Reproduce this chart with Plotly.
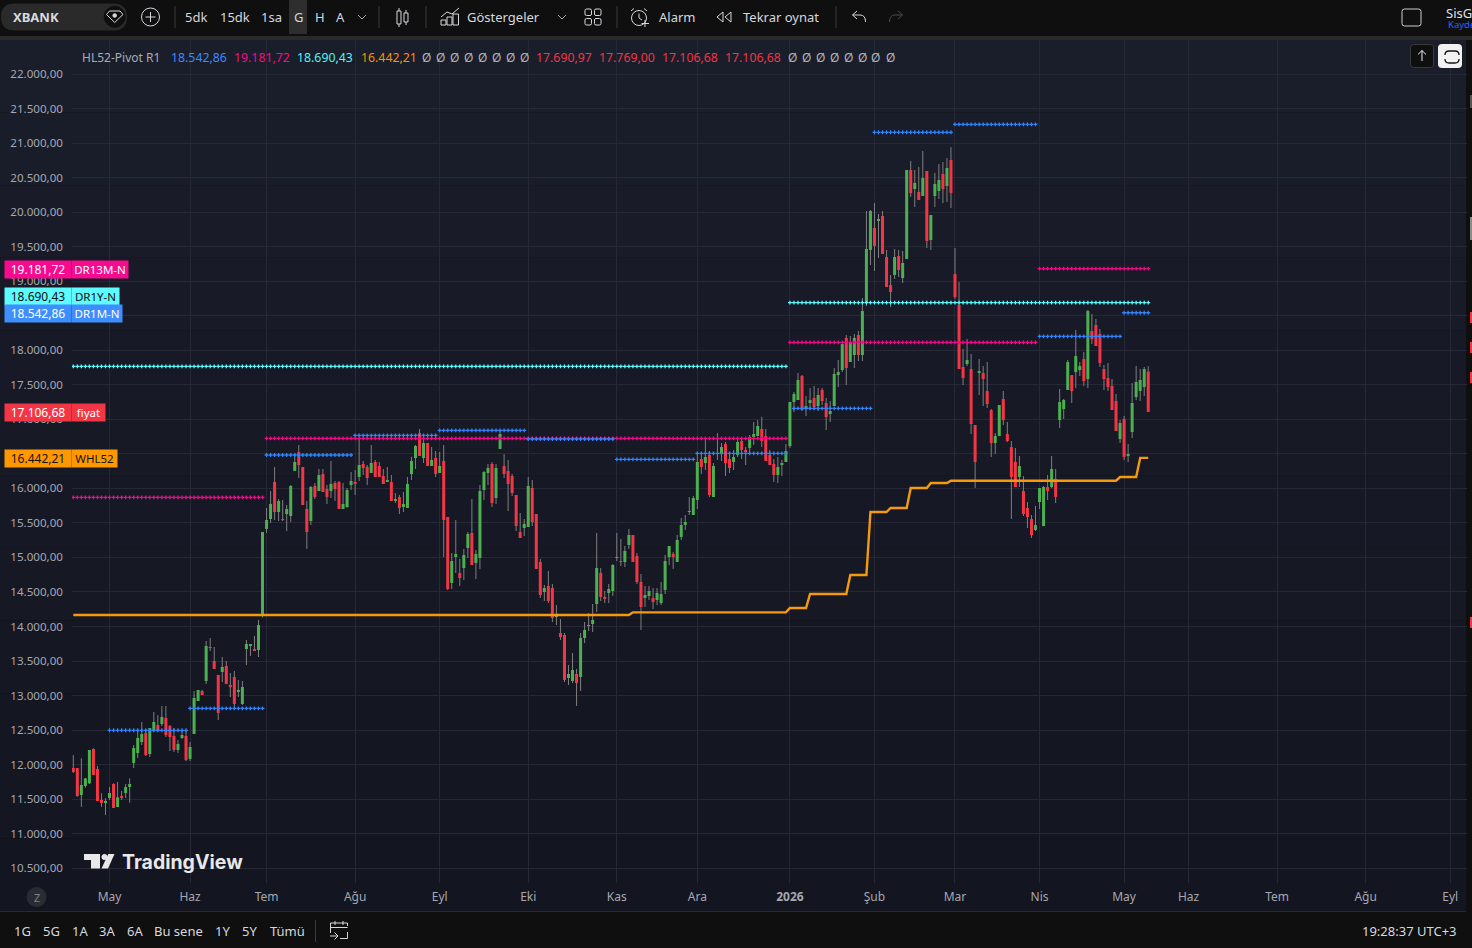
import plotly.graph_objects as go

# candles, one row per ten bars
opens = [
    11951, 11951, 11560, 11690, 11729, 12226, 11936, 11488, 11444, 11516,
    11719, 11386, 11545, 11589, 11676, 12023, 12168, 12327, 12458, 12154,
    12487, 12574, 12588, 12675, 12559, 12415, 12212, 12386, 12415, 12082,
    12444, 12921, 13066, 13211, 13703, 13501, 13298, 13341, 13428, 13139,
    13269, 13052, 12878, 13674, 13718, 13660, 13660, 14166, 15412, 15556,
    16092, 15658, 15556, 15629, 15600, 16251, 16527, 16309, 15701, 15527,
    16034, 15962, 16208, 15991, 15962, 16078, 16092, 15701, 15730, 16049,
    16078, 16165, 16353, 16309, 16222, 16382, 16324, 16179, 16092, 16092,
    15817, 15875, 15730, 15716, 16208, 16440, 16802, 16440, 16657, 16324,
    16440, 16222, 16396, 15585, 14630, 15006, 14774, 14847, 15136, 15354,
    14919, 14992, 15976, 16222, 16353, 15860, 16570, 16324, 16251, 16179,
    15904, 15368, 15426, 15441, 16005, 15629, 14934, 14499, 14586, 14557,
    14137, 13905, 13877, 13254, 13210, 13312, 13268, 13833, 14007, 14036,
    14326, 14774, 14427, 14485, 14514, 14992, 14948, 14934, 15180, 15325,
    15021, 14644, 14412, 14441, 14412, 14383, 14340, 14528, 15006, 15050,
    14934, 15296, 15470, 15658, 15614, 15832, 16425, 16367, 16483, 15875,
    16498, 16498, 16642, 16425, 16382, 16483, 16686, 16541, 16585, 16744,
    16758, 16860, 16758, 16483, 16353, 16194, 16343, 16382, 16613, 17250,
    17279, 17627, 17149, 17236, 17308, 17193, 17424, 17236, 17077, 17193,
    17642, 17714, 18177, 17830, 17931, 18221, 17931, 18699, 19452, 19770,
    19876, 19944, 19350, 18945, 19090, 19365, 19046, 19321, 20610, 20335,
    20292, 20234, 20596, 19596, 20234, 20306, 20552, 20378, 20755, 19104,
    18655, 17757, 17800, 17728, 16917, 17670, 17670, 17409, 17134, 16656,
    16758, 17294, 16787, 16598, 16381, 16164, 15961, 15715, 15556, 15397,
    15802, 15454, 16019, 16019, 16135, 16989, 17149, 17424, 17641, 17684,
    17713, 17873, 17583, 18278, 18365, 18235, 17728, 17598, 17482, 17264,
    16714, 17004, 16468, 16816, 17322, 17409, 17467, 17690.97,
]
highs = [
    12139, 11951, 12091, 11801, 12212, 12236, 11980, 11584, 11512, 11676,
    11729, 11748, 11618, 11719, 11801, 12284, 12501, 12617, 12516, 12530,
    12762, 12719, 12849, 12849, 12574, 12530, 12357, 12501, 12501, 12328,
    13066, 13081, 13081, 13790, 13834, 13703, 13298, 13559, 13501, 13327,
    13356, 13226, 13211, 13805, 13747, 13863, 14095, 15368, 15716, 15962,
    16309, 15846, 15832, 15759, 16049, 16507, 16628, 16309, 15817, 16034,
    16078, 16280, 16280, 16049, 16396, 16107, 16107, 16078, 16005, 16237,
    16266, 16725, 16396, 16338, 16628, 16411, 16382, 16280, 16309, 16194,
    15933, 15904, 15947, 16165, 16459, 16628, 16860, 16715, 16657, 16599,
    16541, 16527, 16628, 15585, 15064, 15542, 14977, 15122, 15368, 15846,
    15107, 16049, 16251, 16353, 16382, 16353, 16845, 16498, 16411, 16208,
    15904, 15643, 15556, 16165, 16121, 15629, 14977, 14601, 14803, 14615,
    14311, 14108, 13905, 13442, 13616, 13384, 13905, 14065, 14195, 14326,
    15354, 14847, 14514, 14615, 14905, 15354, 15267, 15165, 15412, 15325,
    15064, 14760, 14586, 14586, 14557, 14557, 14644, 15035, 15165, 15079,
    15325, 15571, 15614, 15875, 15889, 16527, 16512, 16729, 16541, 16367,
    16802, 16657, 16671, 16498, 16556, 16700, 16715, 16599, 16773, 16961,
    16990, 17038, 16860, 16556, 16425, 16454, 16411, 16642, 17250, 17395,
    17670, 17642, 17337, 17453, 17482, 17453, 17453, 17308, 17265, 17743,
    17859, 18090, 18221, 18206, 18235, 18279, 18757, 20016, 20031, 20132,
    19973, 20016, 19452, 19090, 19466, 19452, 19437, 20610, 20740, 20610,
    20654, 20885, 20596, 19958, 20567, 20697, 20726, 20784, 20943, 19480,
    18988, 18018, 18162, 17945, 16917, 17873, 17771, 17829, 17149, 16801,
    17207, 17409, 16960, 16685, 16584, 16468, 16178, 15802, 15614, 15744,
    16005, 16034, 16193, 16468, 16280, 17438, 17294, 17858, 17641, 18293,
    17829, 17974, 18582, 18524, 18452, 18307, 17786, 17815, 17583, 17366,
    16989, 17047, 16642, 17525, 17771, 17728, 17757, 17769.00,
]
lows = [
    11879, 11536, 11391, 11666, 11719, 11850, 11473, 11391, 11270, 11488,
    11372, 11386, 11488, 11516, 11449, 11951, 12096, 12284, 12125, 12110,
    12473, 12477, 12559, 12400, 12197, 12183, 12168, 12371, 12050, 12053,
    12444, 12921, 13008, 13168, 13646, 13385, 12646, 13197, 13168, 12979,
    12820, 12979, 12864, 13443, 13573, 13645, 13559, 14130, 15354, 15498,
    15542, 15527, 15527, 15383, 15513, 16251, 16150, 15759, 15122, 15470,
    15846, 15962, 15947, 15774, 15860, 15817, 15701, 15701, 15716, 15976,
    15904, 16107, 16194, 16049, 16222, 16165, 16165, 16063, 16092, 15817,
    15788, 15629, 15658, 15716, 16121, 16280, 16469, 16367, 16324, 16324,
    16165, 16222, 15006, 14528, 14543, 14774, 14586, 14673, 14992, 14890,
    14688, 14832, 15832, 16049, 15730, 15774, 16570, 16150, 15672, 15890,
    15383, 15281, 15310, 15441, 15455, 14832, 14412, 14369, 14340, 14065,
    14021, 13804, 13196, 13153, 13181, 12848, 13066, 13761, 13934, 13920,
    14210, 14369, 14340, 14340, 14441, 14948, 14876, 14861, 15122, 14934,
    14615, 13949, 14282, 14383, 14253, 14311, 14311, 14470, 14890, 14832,
    14934, 15252, 15397, 15614, 15614, 15701, 16208, 16266, 15875, 15875,
    16411, 16396, 16179, 16222, 16266, 16454, 16425, 16338, 16483, 16628,
    16758, 16599, 16396, 16338, 16092, 16078, 16179, 16382, 16585, 17106,
    17279, 17120, 17048, 17135, 17135, 17120, 17207, 16845, 16961, 17193,
    17468, 17685, 17497, 17830, 17743, 17844, 17844, 18641, 19234, 19148,
    19336, 19394, 18916, 18626, 19032, 19061, 18974, 19321, 20219, 20074,
    20176, 20234, 19481, 19452, 20074, 20190, 20132, 20147, 20060, 18742,
    17728, 17496, 17771, 16787, 16005, 17351, 17192, 17163, 16454, 16497,
    16758, 16917, 16671, 15556, 16019, 16019, 15599, 15425, 15281, 15382,
    15701, 15454, 15831, 16005, 15787, 16874, 17004, 17424, 17236, 17453,
    17627, 17482, 17453, 18090, 18061, 17757, 17424, 17409, 17134, 16830,
    16656, 16410, 16381, 16729, 17279, 17264, 17337, 17106.68,
]
closes = [
    11893, 11545, 11705, 11801, 12212, 11850, 11473, 11444, 11473, 11589,
    11372, 11526, 11516, 11676, 11719, 12241, 12385, 12443, 12139, 12530,
    12617, 12487, 12690, 12429, 12400, 12212, 12299, 12429, 12065, 12255,
    12965, 13081, 13008, 13718, 13689, 13385, 12748, 13414, 13168, 13124,
    12878, 13066, 13124, 13747, 13732, 13650, 14020, 15368, 15542, 15774,
    15658, 15817, 15542, 15701, 16034, 16382, 16338, 15759, 15368, 16020,
    15875, 16194, 15947, 15875, 16063, 15991, 15701, 15774, 15976, 16107,
    16068, 16338, 16295, 16150, 16367, 16165, 16165, 16063, 16121, 15817,
    15846, 15716, 15774, 16063, 16396, 16613, 16469, 16657, 16324, 16411,
    16208, 16324, 15542, 14543, 14948, 15050, 14702, 15035, 15339, 14890,
    15050, 15962, 16237, 16295, 15788, 16295, 16787, 16208, 16063, 15933,
    15455, 15281, 15484, 16034, 15513, 14832, 14456, 14557, 14369, 14123,
    14166, 13848, 13225, 13312, 13370, 13181, 13833, 13949, 14021, 14094,
    14847, 14427, 14412, 14543, 14890, 15006, 14934, 15093, 15325, 14934,
    14644, 14282, 14456, 14514, 14354, 14485, 14470, 14948, 15165, 15006,
    15252, 15470, 15513, 15672, 15860, 16382, 16309, 16454, 15904, 16324,
    16512, 16599, 16367, 16295, 16454, 16671, 16556, 16531, 16744, 16787,
    16903, 16686, 16396, 16338, 16194, 16309, 16353, 16541, 17250, 17366,
    17569, 17135, 17193, 17279, 17178, 17352, 17265, 17033, 17120, 17656,
    17685, 18090, 17743, 18105, 18177, 17931, 18568, 19466, 20016, 19510,
    19886, 19394, 18916, 18843, 19350, 19162, 19263, 20610, 20277, 20422,
    20176, 20494, 19582, 19958, 20407, 20465, 20335, 20639, 20277, 18771,
    17728, 17598, 17858, 16932, 16381, 17699, 17583, 17221, 16656, 16758,
    17207, 16989, 16685, 16164, 16019, 16323, 15628, 15585, 15324, 15469,
    16005, 16019, 15961, 16280, 15874, 17250, 17279, 17829, 17409, 17916,
    17771, 17554, 18568, 18162, 18061, 17815, 17583, 17467, 17134, 16830,
    16946, 16454, 16497, 17236, 17540, 17569, 17728, 17106.68,
]

# pivot levels: first bar, last bar, price
blue_start = [9, 29, 48, 70, 91, 113, 135, 155, 179, 199, 219, 240, 261]
blue_end = [28, 47, 69, 90, 112, 134, 154, 177, 198, 218, 239, 260, 267]
blue_level = [12497, 12815, 16483, 16768, 16840, 16715, 16420, 16507, 17159, 21156, 21271, 18201, 18542.86]
pink_start = [0, 48, 178, 240]
pink_end = [47, 177, 239, 267]
pink_level = [15870, 16725, 18115, 19181.72]
cyan_start = [0, 178]
cyan_end = [177, 267]
cyan_level = [17767, 18690.43]

whl_start = [0, 139, 178, 183, 193, 198, 203, 208, 213, 218, 260, 265]
whl_end = [138, 177, 182, 192, 197, 202, 207, 212, 217, 259, 264, 267]
whl_level = [14166, 14205, 14268, 14470, 14745, 15658, 15716, 16005, 16078, 16111, 16164, 16442.21]

month_bars = [9, 29, 48, 70, 91, 113, 135, 155, 178, 199, 219, 240, 261, 277, 299, 321, 342]
month_names = ["May", "Haz", "Tem", "Ağu", "Eyl", "Eki", "Kas", "Ara", "<b>2026</b>", "Şub", "Mar", "Nis",
               "May", "Haz", "Tem", "Ağu", "Eyl"]
price_ticks = [10500 + 500 * n for n in range(24)]

legend_values = ["18.542,86", "19.181,72", "18.690,43", "16.442,21", "17.690,97", "17.769,00", "17.106,68", "17.106,68"]
legend_left = [170, 233, 296, 360, 535, 598, 661, 724]
legend_colors = ["#3b8bff", "#f50a8c", "#4ff5f5", "#f59300", "#f23645", "#f23645", "#f23645", "#f23645"]
empty_left = [426, 440, 454, 468, 482, 496, 510, 524, 792, 806, 820, 834, 848, 862, 876, 890]

flag_prices = ["19.181,72", "18.690,43", "18.542,86", "17.106,68", "16.442,21"]
flag_names = ["DR13M-N", "DR1Y-N", "DR1M-N", "fiyat", "WHL52"]
flag_mid = [269.5, 296, 313.5, 412.5, 458.5]
flag_name_w = [56, 47, 50, 33, 45]
flag_bg = ["#f70b8e", "#5cfcff", "#3f8eff", "#f23645", "#ff9800"]
flag_fg = ["#ffffff", "#0f0f0f", "#ffffff", "#ffffff", "#1a1206"]

range_buttons = ["1G", "5G", "1A", "3A", "6A", "Bu sene", "1Y", "5Y", "Tümü"]
range_mid = [22, 51, 80, 107, 134.7, 178.7, 222.7, 249.7, 287]
top_items = ["5dk", "15dk", "1sa", "G", "H", "A", "Göstergeler", "Alarm", "Tekrar oynat"]
top_mid = [196, 234.5, 271, 298, 319.5, 340, 503.5, 676.5, 781]

UP, DOWN, WICK = "#4caf50", "#f23645", "rgba(128,128,128,0.99)"
BAR = "#0f0f0f"
EDGE = "#2a2a2a"
TEXT = "#d6d8df"
FONT = "Noto Sans"

# plot box in page pixels
L, R, T, B = 72, 1467, 40, 883
PX = 4.026
X0 = 73.3
Y_PER_PX = 14.48


def xp(v):
    return (v - L) / (R - L)


def yp(v):
    return 1 - (v - T) / (B - T)


def path(spec):
    out, is_x = [], True
    for tok in spec.split():
        if tok.isalpha():
            out.append(tok)
            is_x = True
        else:
            out.append(f"{xp(float(tok)) if is_x else yp(float(tok)):.5f}")
            is_x = not is_x
    return " ".join(out)


def rrect(x0, y0, x1, y1, r):
    return (f"M {x0 + r} {y0} L {x1 - r} {y0} Q {x1} {y0} {x1} {y0 + r} L {x1} {y1 - r} Q {x1} {y1} {x1 - r} {y1} "
            f"L {x0 + r} {y1} Q {x0} {y1} {x0} {y1 - r} L {x0} {y0 + r} Q {x0} {y0} {x0 + r} {y0} Z")


shapes = []
notes = []


def box(x0, y0, x1, y1, fill, layer="below"):
    shapes.append(dict(type="rect", xref="paper", yref="paper", x0=xp(x0), x1=xp(x1), y0=yp(y1), y1=yp(y0),
                       fillcolor=fill, line_width=0, layer=layer))


def ring(cx, cy, r, line=TEXT, fill="rgba(0,0,0,0)", width=1):
    shapes.append(dict(type="circle", xref="paper", yref="paper", x0=xp(cx - r), x1=xp(cx + r), y0=yp(cy + r),
                       y1=yp(cy - r), fillcolor=fill, line=dict(color=line, width=width), layer="above"))


def stroke(spec, color=TEXT, width=1, fill="rgba(0,0,0,0)"):
    shapes.append(dict(type="path", xref="paper", yref="paper", path=path(spec), fillcolor=fill,
                       line=dict(color=color, width=width), layer="above"))


def note(x, y, text, size=13, color=TEXT, anchor="center", family=FONT, **kw):
    notes.append(dict(xref="paper", yref="paper", x=xp(x), y=yp(y), text=text, showarrow=False, xanchor=anchor,
                      yanchor="middle", borderpad=0, font=dict(family=family, size=size, color=color), **kw))


# per bar series from the level tables
def levels(start, end, value):
    out = [None] * len(opens)
    for a, b, v in zip(start, end, value):
        for i in range(a, b + 1):
            out[i] = v
    return out


bars = list(range(len(opens)))
colors = [UP if c >= o else DOWN for o, c in zip(opens, closes)]
body_low = [min(o, c) for o, c in zip(opens, closes)]
body_size = [max(abs(o - c), 14) for o, c in zip(opens, closes)]
wick_size = [h - l for h, l in zip(highs, lows)]

fig = go.Figure()
# a colour just under full opacity keeps plotly from widening thin bars to two pixels
fig.add_bar(x=bars, y=wick_size, base=lows, width=0.25, marker=dict(color=WICK, line_width=0), hoverinfo="skip")
fig.add_bar(x=bars, y=body_size, base=body_low, width=0.75, marker=dict(color=colors, line_width=0), hoverinfo="skip")

for start, end, level, color in [(pink_start, pink_end, pink_level, "#f50a8c"),
                                 (blue_start, blue_end, blue_level, "#2f86ff"),
                                 (cyan_start, cyan_end, cyan_level, "#5cfcff")]:
    fig.add_scatter(x=bars, y=levels(start, end, level), mode="markers", hoverinfo="skip",
                    marker=dict(symbol="cross", size=3.2, color=color, line_width=0))
fig.add_scatter(x=bars, y=levels(whl_start, whl_end, whl_level), mode="lines", hoverinfo="skip",
                line=dict(color="#f59a0c", width=2.4))

# panel background, slight vertical fade
top_rgb, bot_rgb = (26, 29, 42), (19, 21, 32)
for n in range(12):
    c = [round(a + (b - a) * n / 11) for a, b in zip(top_rgb, bot_rgb)]
    box(0, 40 + n * 72.6, 1466, 40 + (n + 1) * 72.6, f"rgb({c[0]},{c[1]},{c[2]})")
box(0, 36, 1472, 40, EDGE)
box(0, 911, 1466, 912, EDGE)

# right edge strip
for y0, y1, c in [(95, 108, "#555555"), (217, 240, "#8a8a8a"), (312, 323, DOWN), (342, 353, DOWN),
                  (372, 383, DOWN), (617, 628, DOWN)]:
    box(1470, y0, 1472, y1, c)

# top bar
stroke(rrect(1, 3.5, 127, 30.5, 13.5), EDGE, 0, EDGE)
ring(114.7, 16.8, 10.5, BAR, BAR)
stroke("M 106.5 14.5 L 109.5 11 L 120 11 L 123 14.5 L 114.7 22.5 Z", TEXT, 1)
ring(114.7, 15.5, 1.8, TEXT, TEXT)
note(12, 17, "<b>XBANK</b>", 13, TEXT, "left")
ring(150.5, 17, 9, TEXT)
stroke("M 150.5 12 L 150.5 22 M 145.5 17 L 155.5 17")
for x in [174.5, 378.5, 425.5, 616.5, 835.5]:
    box(x, 6, x + 1, 28, "#3a3a3a", "above")
box(289, 0, 307, 34, "#2e2e2e")
for x, label in zip(top_mid, top_items):
    note(x, 17.5, label, 13, TEXT)
for x in [362, 562]:
    stroke(f"M {x - 4} 15 L {x} 19 L {x + 4} 15", "#a5a8b2")
# candle icon
stroke("M 397 11 L 401 11 L 401 24 L 397 24 Z M 399 8 L 399 11 M 399 24 L 399 27")
stroke("M 404 13 L 408 13 L 408 22 L 404 22 Z M 406 10 L 406 13 M 406 22 L 406 25")
# indicators icon
stroke("M 441 20 L 446 20 L 446 25 L 441 25 Z M 447 17 L 452 17 L 452 25 L 447 25 Z M 453 14 L 458.5 14 L 458.5 25 L 453 25 Z")
stroke("M 441 17 L 447 12 L 452 14 L 459 8")
# layouts icon
for x, y in [(585, 9), (594.5, 9), (585, 18.5), (594.5, 18.5)]:
    stroke(rrect(x, y, x + 6.5, y + 6.5, 1.5))
# alarm icon
ring(639, 18, 7.5)
stroke("M 639 13.5 L 639 18 L 642 20 M 631 11 L 634 8.5 M 647 11 L 644 8.5 M 645 20 L 645 27 M 641.5 23.5 L 649 23.5")
# replay icon
stroke("M 723 12 L 717 17 L 723 22 Z M 731 12 L 725 17 L 731 22 Z")
# undo, redo
stroke("M 857 11 L 852.5 15 L 857 19 M 852.5 15 L 860 15 Q 865.5 15 865.5 22")
stroke("M 898 11 L 902.5 15 L 898 19 M 902.5 15 L 895 15 Q 889.5 15 889.5 22", "#4a4a4a")
stroke(rrect(1402, 9, 1421, 26, 2.5), "#cfcfcf")
note(1445, 12.5, "SisG", 13, "#dfe2ea", "left")
note(1447, 25, "Kayde", 9.5, "#2962ff", "left")

# legend row
note(81, 57, "HL52-Pivot R1", 12, "#a9acb6", "left")
for x, label, c in zip(legend_left, legend_values, legend_colors):
    note(x, 57, label, 12.3, c, "left")
for x in empty_left:
    note(x, 57, "Ø", 12, "#b2b5be")

# corner buttons
stroke(rrect(1410.5, 44.5, 1433.5, 67.5, 3), "#3a3a3a", 1, BAR)
stroke("M 1422 50.5 L 1422 61 M 1418 54.5 L 1422 50.5 L 1426 54.5", "#f0f0f0")
stroke(rrect(1438, 44, 1462, 68, 4), "#f2f2f2", 0, "#f2f2f2")
stroke("M 1445 55 Q 1445 51 1449 51 L 1455 51 Q 1459 51 1459 55 M 1445 59 Q 1445 63 1449 63 L 1455 63 Q 1459 63 1459 59",
       "#131313", 1.3)

# price flags sit over the axis labels
for label, name, mid, w, bg, fg in zip(flag_prices, flag_names, flag_mid, flag_name_w, flag_bg, flag_fg):
    note(38, mid, label, 12, fg, width=66, height=17, bgcolor=bg)
    note(72 + w / 2, mid, name, 11.5, fg, width=w, height=17, bgcolor=bg)

# watermark
stroke("M 84 854 L 100 854 L 100 868.5 L 91 868.5 L 91 860 L 84 860 Z", "#e8e8e8", 0, "#e8e8e8")
ring(104.5, 857, 2.6, "#e8e8e8", "#e8e8e8")
stroke("M 108.3 854 L 114.5 854 L 108 868.5 L 101.5 868.5 Z", "#e8e8e8", 0, "#e8e8e8")
note(121, 862, "<b>TradingView</b>", 19.5, "#e8e8e8", "left", "Inter")

# zoom chip on the time scale
ring(36.5, 897, 9.5, "#2a2c33", "#2a2c33")
note(36.5, 897, "Z", 11, "#7d8088")

# bottom bar
for x, label in zip(range_mid, range_buttons):
    note(x, 931, label, 13, TEXT)
box(315, 920, 316, 942, "#3a3a3a", "above")
stroke("M 347.5 926 L 347.5 923 L 330.5 923 L 330.5 933 M 330.5 927.5 L 347.5 927.5 M 335 921 L 335 925 M 343 921 L 343 925")
stroke("M 347.5 932 L 347.5 938.5 L 340 938.5 M 330 936 L 338 936 M 334.5 932.5 L 338 936 L 334.5 939.5")
note(1457.5, 931, "19:28:37 UTC+3", 13, TEXT, "right")

fig.update_layout(
    width=1472, height=948, autosize=False,
    margin=dict(l=L, r=1472 - R, t=T, b=948 - B),
    paper_bgcolor=BAR, plot_bgcolor="rgba(0,0,0,0)",
    barmode="overlay", showlegend=False, hovermode=False,
    separators=",.",
    font=dict(family=FONT, size=12, color="#a5a8b2"),
    shapes=shapes, annotations=notes,
    xaxis=dict(range=[(L - X0) / PX, (R - X0) / PX], tickmode="array", tickvals=month_bars, ticktext=month_names,
               showgrid=True, gridcolor="#262935", gridwidth=1, zeroline=False, showline=False, ticks="",
               ticklabelstandoff=5, tickangle=0, tickfont=dict(family=FONT, size=12, color="#a5a8b2")),
    yaxis=dict(range=[22000 - (B - 74) * Y_PER_PX, 22000 + (74 - T) * Y_PER_PX], tickmode="array",
               tickvals=price_ticks, tickformat=",.2f", showgrid=True, gridcolor="#262935", gridwidth=1,
               zeroline=False, showline=False, ticks="", ticklabelstandoff=8,
               tickfont=dict(family=FONT, size=11.6, color="#a5a8b2")),
)

fig.write_html("out.html", config={"displayModeBar": False},
               post_script="document.body.style.margin='0';document.body.style.overflow='hidden';")
